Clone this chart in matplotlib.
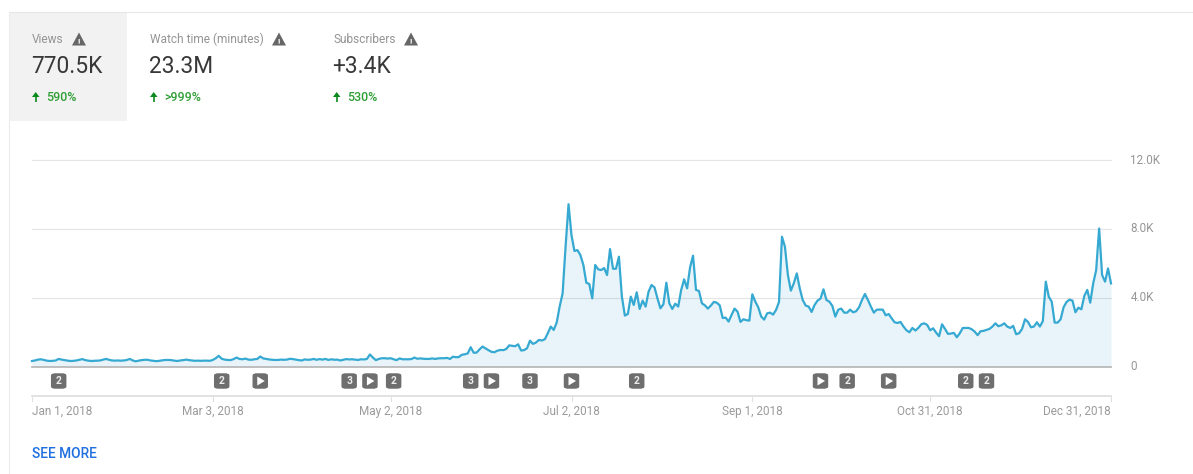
import numpy as np
import matplotlib
matplotlib.use('Agg')
import matplotlib.pyplot as plt
from matplotlib.patches import Rectangle, FancyBboxPatch, Polygon

plt.rcParams['font.family'] = ['Roboto', 'DejaVu Sans']

# Daily views
views_jan = [320, 350, 400, 420, 380, 340, 320, 330, 350, 440, 400, 370, 340, 320, 330, 350, 390, 430, 370, 340,
             320, 330, 340, 350, 400, 440, 390, 350, 340, 350, 340]
views_feb = [350, 380, 440, 350, 300, 340, 370, 390, 390, 350, 330, 310, 330, 360, 380, 380, 370, 340, 320, 350,
             370, 400, 370, 350, 330, 340, 330, 340]
views_mar = [340, 330, 380, 480, 620, 450, 400, 380, 370, 430, 520, 440, 420, 460, 400, 390, 420, 440, 580, 470,
             440, 410, 390, 380, 380, 400, 390, 400, 450, 430, 400]
views_apr = [370, 350, 410, 390, 400, 440, 390, 430, 400, 440, 380, 420, 390, 400, 350, 390, 430, 410, 420, 400,
             380, 420, 410, 440, 700, 520, 370, 440, 480, 480]
views_may = [460, 480, 420, 370, 470, 420, 420, 420, 430, 520, 450, 470, 450, 440, 440, 470, 440, 470, 480, 480,
             500, 440, 570, 540, 550, 680, 710, 760, 1120, 800, 810]
views_jun = [1000, 1160, 1050, 950, 850, 830, 920, 960, 950, 1020, 1230, 1200, 1180, 1290, 930, 950, 1060,
             1500, 1315, 1390, 1545, 1510, 1585, 1930, 2320, 2125, 2550, 3480, 4250, 6960]
views_jul = [9430, 7630, 6710, 6765, 6475, 5900, 4870, 4795, 3960, 5900, 5645, 5605, 5720, 5315, 6825, 5680,
             5680, 6380, 4060, 2960, 3050, 4060, 3575, 4310, 3345, 3830, 3480, 4350, 4735, 4600, 3960]
views_aug = [3380, 3615, 4870, 3670, 3345, 3650, 3480, 4450, 5065, 4540, 5760, 6440, 4450, 4390, 3670, 3555,
             3365, 3540, 3750, 3710, 3555, 2820, 2840, 2610, 3000, 3365, 3190, 2590, 2745, 2690, 2670]
views_sep = [4195, 3770, 3440, 2900, 2725, 3090, 3130, 3015, 3285, 3750, 7540, 6960, 5315, 4410, 4835, 5410,
             4540, 3865, 3540, 3480, 3170, 3575, 3830, 3945, 4485, 3865, 3770, 3520, 2900, 3305]
views_oct = [3365, 3130, 3130, 3305, 3150, 3210, 3440, 3865, 4215, 3865, 3480, 3130, 3305, 3305, 3305, 2975,
             3050, 2800, 2570, 2530, 2590, 2320, 2105, 1990, 2240, 2090, 2240, 2455, 2510, 2415, 2105]
views_nov = [2220, 1970, 1760, 2455, 2185, 1895, 1915, 1950, 1700, 1935, 2240, 2240, 2240, 2165, 2030, 1820,
             2050, 2070, 2125, 2185, 2320, 2510, 2340, 2395, 2510, 2320, 2240, 2360, 1875, 1935]
views_dec = [2185, 2745, 2590, 2280, 2320, 2570, 2320, 2630, 4930, 4060, 3770, 2550, 2550, 2745, 3440, 3750,
             3885, 3830, 3150, 3420, 3325, 4100, 4450, 3710, 4835, 5605, 8020, 5315, 4930, 5700, 4830]

views = np.array(views_jan + views_feb + views_mar + views_apr + views_may + views_jun
                 + views_jul + views_aug + views_sep + views_oct + views_nov + views_dec)
days = np.arange(len(views))

y_ticks = [0, 4000, 8000, 12000]
y_labels = ['0', '4.0K', '8.0K', '12.0K']
x_ticks = [0, 61, 121, 182, 243, 303, 364]
x_labels = ['Jan 1, 2018', 'Mar 3, 2018', 'May 2, 2018', 'Jul 2, 2018', 'Sep 1, 2018', 'Oct 31, 2018', 'Dec 31, 2018']

# Annotation badges under the chart, ">" is the play icon
badge_days = [9, 64, 77, 107, 114, 122, 148, 155, 168, 182, 204, 266, 275, 289, 315, 322]
badge_text = ['2', '2', '>', '3', '>', '2', '3', '>', '3', '>', '2', '>', '2', '>', '2', '2']

# Header cards
card_names = ['Views', 'Watch time (minutes)', 'Subscribers']
card_values = ['770.5K', '23.3M', '+3.4K']
card_changes = ['590%', '>999%', '530%']
card_x = [32, 150, 333]
card_warn_x = [79, 279, 411]

W, H = 1193, 474
fig = plt.figure(figsize=(W / 100, H / 100), dpi=100, facecolor='white')


def px_axes(left, top, right, bottom):
    return fig.add_axes([left / W, 1 - bottom / H, (right - left) / W, (bottom - top) / H])


# Page chrome in pixel coordinates
page = px_axes(0, 0, W, H)
page.set_xlim(0, W)
page.set_ylim(H, 0)
page.axis('off')
page.add_patch(Rectangle((9, 12), 118, 109, fc='#f2f2f2', ec='none'))
page.plot([8.5, W], [11.5, 11.5], color='#e6e6e6', lw=0.8)
page.plot([8.5, 8.5], [11.5, H], color='#ececec', lw=0.8)

for name, value, change, x, wx in zip(card_names, card_values, card_changes, card_x, card_warn_x):
    page.text(x, 39, name, fontsize=8.6, color='#949494', va='center', ha='left')
    page.text(x - 0.5, 66.5, value, fontsize=16.4, color='#383838', va='center', ha='left')
    page.text(x + 14, 97.5, change, fontsize=8.9, color='#2f9e35', va='center', ha='left', fontweight='medium')
    # warning triangle
    page.add_patch(Polygon([(wx - 7, 45.5), (wx + 7, 45.5), (wx, 32.5)], fc='#666666', ec='none'))
    page.text(wx, 41.3, '!', fontsize=6, color='white', va='center', ha='center', fontweight='bold')
    # green up arrow
    page.add_patch(Polygon([(x + 3.7, 92), (x + 7.5, 97), (x, 97)], fc='#0b8a1e', ec='none'))
    page.plot([x + 3.7, x + 3.7], [96, 102], color='#0b8a1e', lw=1.2, solid_capstyle='butt')

page.text(32, 454, 'SEE MORE', fontsize=9.9, color='#1f6fe0', va='center', ha='left', fontweight='medium')

# Main line chart
ax = px_axes(32, 160, 1111, 366.5)
ax.patch.set_alpha(0)
ax.set_xlim(0, 364)
ax.set_ylim(0, 12000)
ax.fill_between(days, views, 0, color='#e8f4f9', lw=0, zorder=1)
for t in y_ticks[1:]:
    ax.axhline(t, color='#000000', alpha=0.1, lw=0.9, zorder=2, clip_on=False)
ax.plot(days, views, color='#35a9d1', lw=1.6, zorder=3, solid_joinstyle='round', clip_on=False)
ax.axhline(0, color='#b4b4b4', lw=1.2, zorder=4, clip_on=False)
for s in ax.spines.values():
    s.set_visible(False)
ax.set_xticks([])
ax.yaxis.tick_right()
ax.set_yticks(y_ticks)
ax.set_yticklabels(y_labels, fontsize=8.4, color='#969696', ha='left', va='center')
ax.tick_params(axis='y', length=0, pad=14)

# Strip under the chart: badges, date axis (y is in page pixels)
strip = px_axes(32, 367, 1111, 420)
strip.patch.set_alpha(0)
strip.set_xlim(0, 364)
strip.set_ylim(420, 367)
for s in strip.spines.values():
    s.set_visible(False)
strip.set_yticks([])
strip.set_xticks([])
px = 364 / 1079
for d, t in zip(badge_days, badge_text):
    strip.add_patch(FancyBboxPatch((d - 6.2 * px, 374.8), 12.4 * px, 12.4, boxstyle='round,pad=0,rounding_size=1',
                                   mutation_aspect=1, fc='#6e6e6e', ec='#6e6e6e', lw=2.2))
    if t == '>':
        strip.add_patch(Polygon([(d - 3 * px, 376.5), (d - 3 * px, 385.5), (d + 4.5 * px, 381)], fc='white', ec='none'))
    else:
        strip.text(d, 381.2, t, fontsize=7.4, color='#eeeeee', va='center', ha='center', fontweight='bold')
strip.plot([0, 364], [396, 396], color='#dadada', lw=1.1, clip_on=False)
for d, lab in zip(x_ticks, x_labels):
    strip.plot([d, d], [396, 401], color='#e0e0e0', lw=0.8, clip_on=False)
    align = 'left' if d == 0 else 'right' if d == 364 else 'center'
    strip.text(d, 411.7, lab, fontsize=8.5, color='#9a9a9a', va='center', ha=align)

plt.savefig('out.png', dpi=100)
